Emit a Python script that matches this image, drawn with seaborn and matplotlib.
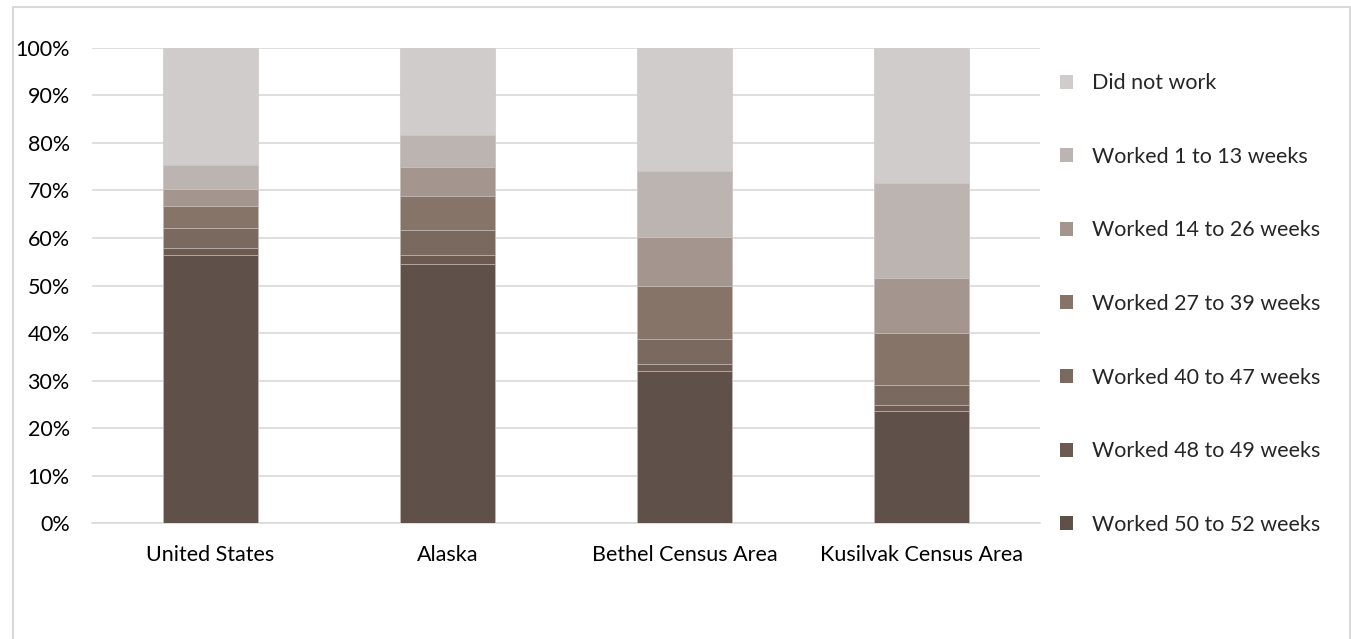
import matplotlib
matplotlib.use("Agg")
import matplotlib.pyplot as plt
from matplotlib.patches import Patch, Rectangle
from matplotlib.ticker import PercentFormatter
import numpy as np
import pandas as pd
import seaborn as sns

# Share of population by weeks worked in the past 12 months (%)
areas = ["United States", "Alaska", "Bethel Census Area", "Kusilvak Census Area"]
worked_50_52 = [56.5, 54.6, 32.0, 23.6]
worked_48_49 = [1.5, 1.8, 1.5, 1.2]
worked_40_47 = [4.1, 5.2, 5.3, 4.2]
worked_27_39 = [4.6, 7.2, 11.2, 10.9]
worked_14_26 = [3.6, 6.1, 10.3, 11.7]
worked_1_13 = [5.1, 6.7, 13.9, 20.0]
did_not_work = [24.6, 18.4, 25.8, 28.4]

series_names = [
    "Worked 50 to 52 weeks",
    "Worked 48 to 49 weeks",
    "Worked 40 to 47 weeks",
    "Worked 27 to 39 weeks",
    "Worked 14 to 26 weeks",
    "Worked 1 to 13 weeks",
    "Did not work",
]
series_values = [worked_50_52, worked_48_49, worked_40_47, worked_27_39,
                 worked_14_26, worked_1_13, did_not_work]
colors = ["#5f5149", "#6c5a51", "#7a695e", "#877469", "#a4968f", "#bcb4b1", "#d0cccb"]

sns.set_theme(style="white")
plt.rcParams["font.family"] = ["Lato", "DejaVu Sans"]
FS = 15.5

df = pd.DataFrame(dict(zip(series_names, series_values)), index=areas)
cum = df.cumsum(axis=1)

fig = plt.figure(figsize=(13.51, 6.39), dpi=100)
ax = fig.add_axes([0.0681, 0.1815, 0.7017, 0.7434])

# Stacked bars: draw cumulative totals from the top layer down
for name, color in zip(reversed(series_names), reversed(colors)):
    layer = pd.DataFrame({"area": areas, "value": cum[name].values})
    sns.barplot(data=layer, x="area", y="value", color=color, width=0.4,
                saturation=1, edgecolor="#cfc9c6", linewidth=0.5, ax=ax, zorder=3)

ax.set_ylim(0, 100)
ax.set_xlim(-0.5, len(areas) - 0.5)
ax.set_yticks(np.arange(0, 101, 10))
ax.yaxis.set_major_formatter(PercentFormatter(decimals=0))
ax.grid(axis="y", color="#d9d9d9", linewidth=1.2, zorder=0)
ax.set_axisbelow(True)
for side in ["top", "right", "left"]:
    ax.spines[side].set_visible(False)
ax.spines["bottom"].set_color("#d9d9d9")
ax.spines["bottom"].set_linewidth(1.2)
ax.set_xlabel("")
ax.set_ylabel("")
ax.tick_params(axis="y", length=0, pad=16, labelsize=FS, labelcolor="#000000")
ax.tick_params(axis="x", length=0, pad=16, labelsize=FS, labelcolor="#000000")

# Legend, top entry first
handles = [Patch(facecolor=c, edgecolor="none") for c in reversed(colors)]
labels = list(reversed(series_names))
fig.legend(handles, labels, loc="upper left", bbox_to_anchor=(0.7783, 0.899),
           frameon=False, fontsize=FS, labelspacing=2.49, handlelength=0.62,
           handleheight=0.62, handletextpad=0.88, borderaxespad=0)

# Chart area border
fig.patches.append(Rectangle((13 / 1351, -0.05), 1337 / 1351, 1.05 - 7 / 639,
                             transform=fig.transFigure, fill=False,
                             edgecolor="#d9d9d9", linewidth=1.5))

fig.savefig("out.png", dpi=100)
